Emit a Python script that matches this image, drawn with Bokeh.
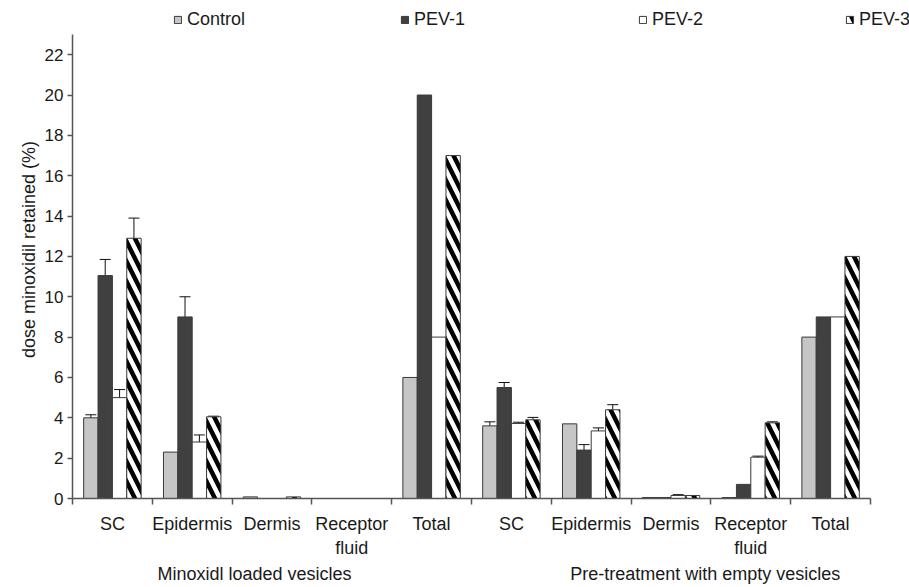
import numpy as np
from bokeh.plotting import figure
from bokeh.models import (ColumnDataSource, Range1d, LinearAxis, FixedTicker,
                          Whisker, TeeHead, Legend, LegendItem)
from bokeh.embed import file_html
from bokeh.resources import INLINE

# ---------------- data ----------------
categories = ["SC", "Epidermis", "Dermis", "Receptor\nfluid", "Total",
              "SC", "Epidermis", "Dermis", "Receptor\nfluid", "Total"]
groups = ["Minoxidl loaded vesicles", "Pre-treatment with empty vesicles"]
series = ["Control", "PEV-1", "PEV-2", "PEV-3"]

control = [4.0, 2.3, 0.08, 0.0, 6.0, 3.6, 3.7, 0.05, 0.05, 8.0]
control_err = [0.15, 0.0, 0.0, 0.0, 0.0, 0.2, 0.0, 0.0, 0.0, 0.0]
pev1 = [11.05, 9.0, 0.0, 0.0, 20.0, 5.5, 2.4, 0.05, 0.7, 9.0]
pev1_err = [0.8, 1.0, 0.0, 0.0, 0.0, 0.25, 0.27, 0.0, 0.0, 0.0]
pev2 = [5.0, 2.8, 0.0, 0.0, 8.0, 3.72, 3.35, 0.15, 2.05, 9.0]
pev2_err = [0.4, 0.35, 0.0, 0.0, 0.0, 0.06, 0.15, 0.04, 0.05, 0.0]
pev3 = [12.9, 4.05, 0.08, 0.0, 17.0, 3.9, 4.4, 0.15, 3.75, 12.0]
pev3_err = [1.0, 0.03, 0.0, 0.0, 0.0, 0.12, 0.25, 0.0, 0.05, 0.0]

y_ticks = list(range(0, 23, 2))
y_axis_max = 23

# ---------------- figure ----------------
FONT = "Liberation Sans"
AX = "#555555"
TXT = "#1a1a1a"

W, H = 909, 587
LEFT, BOTTOM = 72, 89
FRAME_H = H - BOTTOM          # frame spans the full height above the x axis
AXIS_TOP_PX = 34              # where the drawn y axis ends
AXIS_RIGHT_PX = 870           # where the drawn x axis ends
n_cat = len(categories)
y_top = y_axis_max * FRAME_H / (FRAME_H - AXIS_TOP_PX)
x_right = n_cat * (W - LEFT) / (AXIS_RIGHT_PX - LEFT)

p = figure(width=W, height=H, x_range=Range1d(0, x_right), y_range=Range1d(0, y_top),
           output_backend="svg", toolbar_location=None, x_axis_type=None,
           min_border_left=LEFT, min_border_right=0, min_border_top=0,
           min_border_bottom=BOTTOM)
p.outline_line_color = None
p.ygrid.grid_line_color = None
p.background_fill_color = "white"
p.border_fill_color = "white"

ya = p.yaxis[0]
ya.bounds = (0, y_axis_max)
ya.ticker = FixedTicker(ticks=y_ticks)
ya.minor_tick_line_color = None
ya.major_tick_out = 5
ya.major_tick_in = 0
ya.major_tick_line_color = AX
ya.major_tick_line_width = 1.5
ya.axis_line_color = AX
ya.axis_line_width = 1.5
ya.major_label_text_font = FONT
ya.major_label_text_font_size = "17px"
ya.major_label_text_color = TXT
ya.major_label_standoff = 4
ya.axis_label = "dose minoxidil retained (%)"
ya.axis_label_text_font = FONT
ya.axis_label_text_font_size = "18px"
ya.axis_label_text_font_style = "normal"
ya.axis_label_text_color = TXT
ya.axis_label_standoff = 3

# category axis: boundary ticks as minor ticks, labels at category centres
centers = np.arange(n_cat) + 0.5
bounds = list(range(n_cat + 1))
xa = LinearAxis(ticker=FixedTicker(ticks=list(centers), minor_ticks=bounds),
                bounds=(0, n_cat),
                major_label_overrides={float(c): lab for c, lab in zip(centers, categories)},
                major_tick_line_color=None, major_tick_out=0, major_tick_in=0,
                minor_tick_out=6, minor_tick_in=0,
                minor_tick_line_color=AX, minor_tick_line_width=1.5,
                axis_line_color=AX, axis_line_width=1.5,
                major_label_standoff=9,
                major_label_text_font=FONT, major_label_text_font_size="18px",
                major_label_text_color=TXT, major_label_text_line_height=1.2)
p.add_layout(xa, "below")

group_pos = [2.28, 7.93]
xg = LinearAxis(ticker=FixedTicker(ticks=group_pos),
                major_label_overrides={g: lab for g, lab in zip(group_pos, groups)},
                axis_line_color=None, major_tick_line_color=None,
                major_tick_out=0, major_tick_in=0,
                minor_tick_line_color=None, major_label_standoff=3,
                major_label_text_font=FONT, major_label_text_font_size="18px",
                major_label_text_color=TXT)
p.add_layout(xg, "below")

# ---------------- bars ----------------
offsets = [-0.27, -0.09, 0.09, 0.27]
bw = 0.18
vals = [control, pev1, pev2, pev3]
errs = [control_err, pev1_err, pev2_err, pev3_err]
fills = ["#c6c6c6", "#404040", "white", "white"]

renderers = []
for i, (name, v, e, fc) in enumerate(zip(series, vals, errs, fills)):
    x = centers + offsets[i]
    src = ColumnDataSource(dict(x=x, top=v))
    kw = dict(x="x", top="top", width=bw, bottom=0, source=src,
              fill_color=fc, line_color="#3a3a3a", line_width=1)
    if name == "PEV-3":
        kw.update(hatch_pattern="left_diagonal_line", hatch_color="black",
                  hatch_scale=20, hatch_weight=4.5)
    r = p.vbar(**kw)
    renderers.append(r)

    mask = np.array(e) > 0
    ws = ColumnDataSource(dict(base=x[mask],
                               upper=(np.array(v) + np.array(e))[mask],
                               lower=(np.array(v) - np.array(e))[mask]))
    w = Whisker(source=ws, base="base", upper="upper", lower="lower",
                line_color="#111111", line_width=1,
                upper_head=TeeHead(size=11, line_color="#111111", line_width=1),
                lower_head=TeeHead(size=11, line_color="#111111", line_width=1))
    p.add_layout(w)

# ---------------- legend (manual positions) ----------------
leg_x = [101, 328, 566, 773]
for name, r, lx in zip(series, renderers, leg_x):
    lg = Legend(items=[LegendItem(label=name, renderers=[r])],
                location=(lx, FRAME_H - 30), orientation="horizontal",
                padding=0, margin=0, spacing=0, label_standoff=5,
                glyph_width=9, glyph_height=9, label_height=20,
                label_text_font=FONT, label_text_font_size="18px",
                label_text_color=TXT,
                background_fill_alpha=0, border_line_alpha=0)
    p.add_layout(lg, "center")

open("out.html", "w").write(file_html(p, INLINE))
